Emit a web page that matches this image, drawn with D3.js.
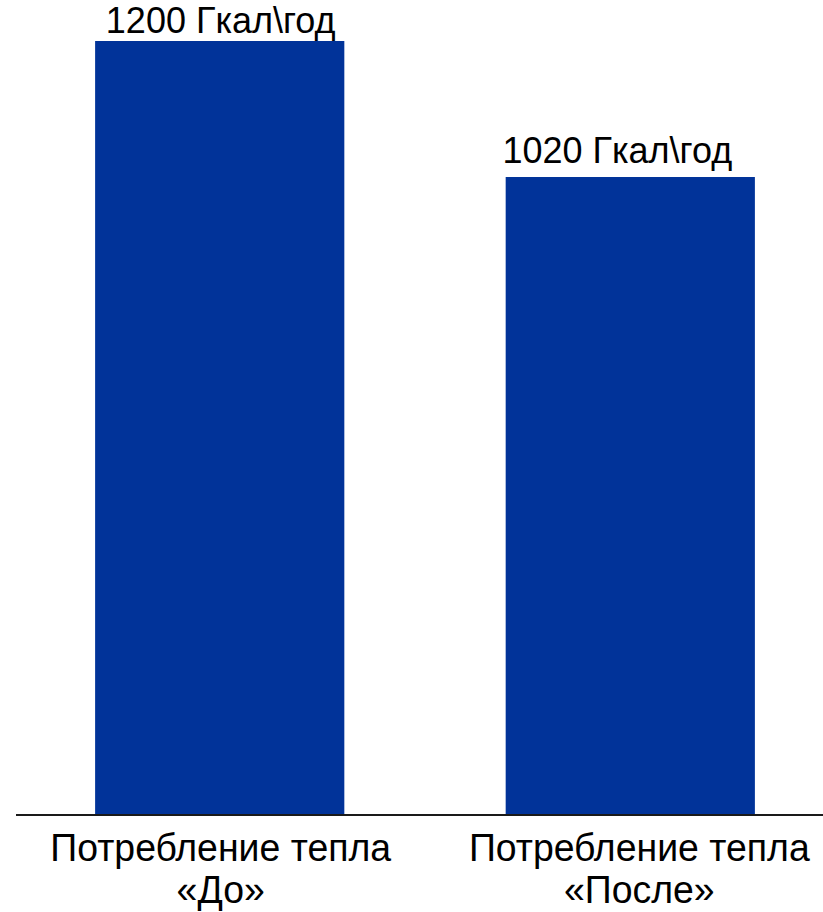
<!DOCTYPE html>
<html>
<head>
<meta charset="utf-8">
<script src="https://cdn.jsdelivr.net/npm/d3@7"></script>
<style>
  html, body { margin: 0; padding: 0; background: #fff; }
  svg { display: block; }
  text { font-family: "Liberation Sans", Arial, sans-serif; fill: #000; }
</style>
</head>
<body>
<svg id="chart" width="823" height="912"></svg>
<script>
const categories = ["Потребление тепла\n«До»", "Потребление тепла\n«После»"];
const values = [1200, 1020];
const valueLabels = ["1200 Гкал\\год", "1020 Гкал\\год"];

const W = 823, H = 912;
const svg = d3.select("#chart");
const baseY = 814;

const x = d3.scaleBand()
  .domain(categories)
  .range([13, 837])
  .paddingInner(0.393)
  .paddingOuter(0.2);

const y = d3.scaleLinear()
  .domain([177, 1200])
  .range([baseY, 41]);

svg.selectAll("rect.bar")
  .data(values)
  .join("rect")
  .attr("class", "bar")
  .attr("x", (d, i) => x(categories[i]))
  .attr("width", x.bandwidth())
  .attr("y", d => y(d))
  .attr("height", d => baseY - y(d))
  .attr("fill", "#013399");

// baseline
svg.append("line")
  .attr("x1", 16).attr("x2", W)
  .attr("y1", baseY + 1).attr("y2", baseY + 1)
  .attr("stroke", "#1a1a1a")
  .attr("stroke-width", 2);

// value labels
const valDx = [1, -13], valDy = [8, 14];
svg.selectAll("text.val")
  .data(values)
  .join("text")
  .attr("class", "val")
  .attr("x", (d, i) => x(categories[i]) + x.bandwidth() / 2 + valDx[i])
  .attr("y", (d, i) => y(d) - valDy[i])
  .attr("text-anchor", "middle")
  .attr("font-size", 36)
  .text((d, i) => valueLabels[i]);

// category labels
const catDx = [1, 9];
const cat = svg.selectAll("text.cat")
  .data(categories)
  .join("text")
  .attr("class", "cat")
  .attr("text-anchor", "middle")
  .attr("font-size", 38)
  .attr("transform", (d, i) => `translate(${x(d) + x.bandwidth() / 2 + catDx[i]},0) scale(0.985,1)`);

cat.selectAll("tspan")
  .data(d => d.split("\n"))
  .join("tspan")
  .attr("x", 0)
  .attr("y", (t, j) => 861 + j * 42)
  .text(t => t);
</script>
</body>
</html>
